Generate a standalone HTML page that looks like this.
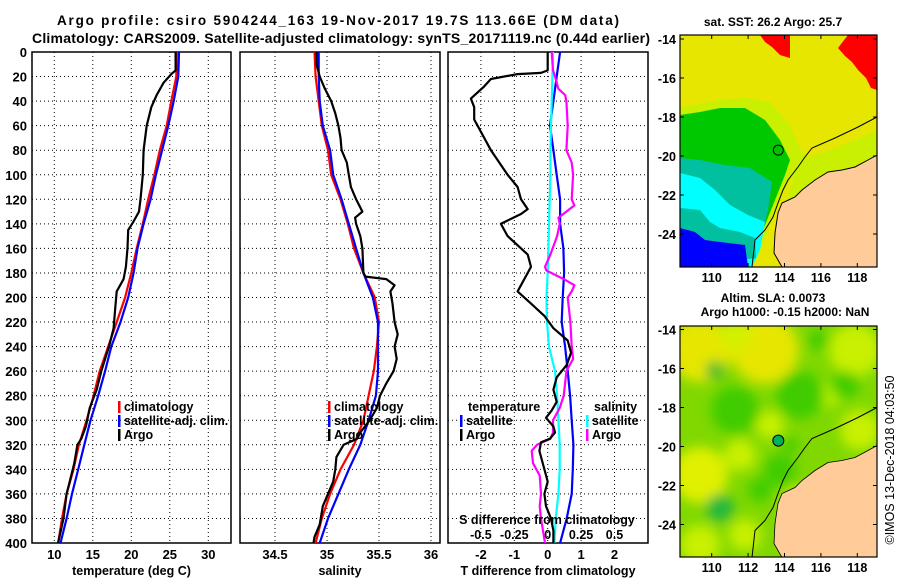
<!DOCTYPE html>
<html><head><meta charset="utf-8"><style>
html,body{margin:0;padding:0;background:#fff;}
svg{display:block;font-family:"Liberation Sans",sans-serif;font-weight:bold;}
</style></head><body>
<svg id="c" width="900" height="580" viewBox="0 0 900 580" xmlns="http://www.w3.org/2000/svg">
<defs>
<clipPath id="m1"><rect x="680" y="35" width="197" height="232"/></clipPath>
<clipPath id="m2"><rect x="680" y="326" width="197" height="231"/></clipPath>
<clipPath id="p1"><rect x="32" y="52" width="199" height="491"/></clipPath>
<clipPath id="p2"><rect x="240" y="52" width="200" height="491"/></clipPath>
<clipPath id="p3"><rect x="448" y="52" width="200" height="491"/></clipPath>
<filter id="bl" x="-20%" y="-20%" width="140%" height="140%"><feGaussianBlur stdDeviation="6"/></filter>
</defs>
<text x="338" y="25" text-anchor="middle" font-size="13.5" textLength="562">Argo profile: csiro 5904244_163 19-Nov-2017 19.7S 113.66E (DM data)</text>
<text x="341" y="43" text-anchor="middle" font-size="14" textLength="618">Climatology: CARS2009. Satellite-adjusted climatology: synTS_20171119.nc (0.44d earlier)</text>
<g id="g"></g>
</svg>
<script>
// ---- data ----
const depthArgoT = [0,15,18,25,35,45,60,80,100,120,130,138,145,160,175,185,195,210,225,240,260,275,290,305,315,320,335,350,360,380,400];
const argoT = [25.75,25.75,25.2,24.2,23.3,22.6,22.0,21.6,21.5,21.2,21.0,20.3,19.6,19.5,19.3,19.0,18.1,17.9,17.7,17.1,16.1,15.5,14.6,14.1,13.5,13.0,12.6,12.0,11.6,11.2,10.5];
const depthStd = [0,20,40,60,80,100,120,140,160,180,200,220,240,260,280,300,320,340,360,380,400];
const climT = [25.9,25.85,25.2,24.6,23.7,23.0,22.2,21.5,20.7,20.0,19.2,18.1,17.0,15.9,15.1,14.2,13.2,12.5,11.6,11.0,10.5];
const satT = [26.2,26.1,25.5,24.8,24.0,23.2,22.5,21.6,20.8,20.3,19.6,18.6,17.4,16.6,15.7,14.7,13.9,13.1,12.3,11.6,10.8];
const depthArgoS = [0,10,20,30,40,50,60,70,80,90,100,110,120,130,135,140,150,160,180,183,185,190,195,205,220,230,240,250,260,270,280,290,300,310,315,320,330,340,350,360,370,385,395,400];
const argoS = [34.90,34.90,34.93,34.98,35.04,35.08,35.11,35.13,35.14,35.19,35.21,35.23,35.28,35.34,35.27,35.28,35.32,35.34,35.35,35.37,35.57,35.65,35.61,35.63,35.65,35.68,35.65,35.67,35.64,35.57,35.51,35.48,35.41,35.32,35.29,35.16,35.09,35.08,35.06,35.01,34.96,34.93,34.88,34.87];
const climS = [34.88,34.89,34.92,34.95,35.01,35.04,35.13,35.20,35.26,35.35,35.46,35.50,35.48,35.45,35.40,35.35,35.26,35.13,35.03,34.95,34.89];
const satS = [34.92,34.92,34.93,34.96,35.03,35.06,35.14,35.21,35.28,35.35,35.44,35.49,35.49,35.49,35.47,35.40,35.32,35.21,35.11,35.01,34.93];
const depthDT = [0,15,17,18,22,28,38,45,55,60,80,100,110,120,128,132,140,150,165,175,180,190,195,205,215,225,235,245,255,265,275,285,292,298,305,310,315,318,325,340,350,360,370,380,390,400];
const argoDT = [0,0,-0.2,-0.9,-1.7,-1.9,-2.3,-2.2,-2.2,-2.1,-1.7,-1.2,-0.9,-0.8,-0.6,-0.8,-1.4,-1.2,-0.6,-0.5,-0.6,-0.8,-0.9,-0.5,-0.1,0.17,0.6,0.7,0.57,0.27,0.17,0.27,0.12,-0.05,0.17,0.22,0.07,-0.2,-0.25,-0.1,0,-0.1,-0.05,0.1,0.17,0.17];
const satDT = [0.37,0.27,0.17,0.07,0.17,0.27,0.37,0.37,0.47,0.49,0.45,0.42,0.52,0.6,0.67,0.72,0.77,0.75,0.72,0.57,0.37];
const satDS = [0.04,0.035,0.03,0.025,0.02,0.02,0.015,0.01,0.005,0.0,-0.01,-0.005,0.01,0.055,0.07,0.08,0.09,0.09,0.08,0.06,0.05];
const depthDS = [0,15,20,30,35,40,60,80,90,100,110,120,125,135,140,150,165,175,178,185,190,195,200,220,240,250,260,270,280,290,300,310,315,320,325,335,345,360,370,380,400];
const argoDS = [0.03,0.04,0.055,0.08,0.13,0.14,0.15,0.14,0.18,0.19,0.185,0.18,0.2,0.08,0.09,0.07,0.02,-0.02,-0.01,0.12,0.2,0.18,0.15,0.17,0.18,0.19,0.14,0.13,0.12,0.09,0.04,0.04,0.02,-0.08,-0.12,-0.11,-0.06,-0.05,-0.06,-0.05,-0.02];
const depthTicks = [0,20,40,60,80,100,120,140,160,180,200,220,240,260,280,300,320,340,360,380,400];
const tTicks = [10,15,20,25,30];
const sTicks = [34.5,35,35.5,36];
const dtTicks = [-2,-1,0,1,2];
const dsTicks = [-0.5,-0.25,0,0.25,0.5];
const dsTickLabels = ['-0.5','-0.25','0','0.25','0.5'];
const latTicks = [-14,-16,-18,-20,-22,-24];
const lonTicks = [110,112,114,116,118];

// ---- scales ----
const TOP=52, BOT=543;
const yD = d => TOP + d*(BOT-TOP)/400;
const xT = t => 54.3 + (t-10)*7.7;
const xS = s => 327 + (s-35)*104;
const xDT = v => 547.7 + v*33.4;
const xDS = v => 547.7 + v*133.6;
const xLon = l => 711.7 + (l-110)*18.2;
const yLat1 = l => 39 + (-14-l)*19.5;
const yLat2 = l => 329.5 + (-14-l)*19.5;

const NS='http://www.w3.org/2000/svg';
const G=document.getElementById('g');
function mk(tag, attrs, parent){const e=document.createElementNS(NS,tag);for(const k in attrs)e.setAttribute(k,attrs[k]);(parent||G).appendChild(e);return e;}
function txt(x,y,s,size,anchor,parent){const e=mk('text',{x:x,y:y,'font-size':size,'text-anchor':anchor||'middle'},parent);e.textContent=s;return e;}

function panel(name,x0,x1,xticks,xf,tickLabels,xtitle,showY){
  const g=mk('g',{});
  
  
  depthTicks.forEach(d=>{
    if(d>0&&d<400){const l=mk('line',{x1:x0,x2:x1,y1:yD(d),y2:yD(d),stroke:'#000','stroke-width':1,'stroke-dasharray':'1,3'},g);
    
    }
    if(showY){const t=txt(27,yD(d)+5,String(d),13,'end',g);
      
      }
  });
  xticks.forEach((v,i)=>{
    const l=mk('line',{x1:xf(v),x2:xf(v),y1:TOP,y2:BOT,stroke:'#000','stroke-width':1,'stroke-dasharray':'1,3'},g);
    
    
    if(tickLabels){const t=txt(xf(v),559,tickLabels[i],13,'middle',g);
      
      }
  });
  const r=mk('rect',{x:x0,y:TOP,width:x1-x0,height:BOT-TOP,fill:'none',stroke:'#000','stroke-width':1.5},g);
  
  
  const t=txt((x0+x1)/2,575,xtitle,12.5,'middle',g);
  
  
  return g;
}
function series(name,xs,ds,xf,color,clip){
  const pts=xs.map((v,i)=>xf(v).toFixed(1)+','+yD(ds[i]).toFixed(1)).join(' ');
  const p=mk('polyline',{points:pts,fill:'none',stroke:color,'stroke-width':2.2,'stroke-linejoin':'round','clip-path':'url(#'+clip+')'});
  
  
}
function legendRow(name,x,y,color,label){
  const g=mk('g',{});
  
  
  mk('rect',{x:x,y:y-10,width:2.5,height:12,fill:color},g);
  txt(x+6,y,label,12.5,'start',g);
}

panel('temperature-panel',32,231,tTicks,xT,tTicks.map(String),'temperature (deg C)',true);
panel('salinity-panel',240,440,sTicks,xS,sTicks.map(String),'salinity',false);
panel('difference-panel',448,648,dtTicks,xDT,dtTicks.map(String),'T difference from climatology',false);

series('temperature-climatology-line',climT,depthStd,xT,'#ff0000','p1');
series('temperature-satellite-line',satT,depthStd,xT,'#0000ff','p1');
series('temperature-argo-line',argoT,depthArgoT,xT,'#000000','p1');
series('salinity-climatology-line',climS,depthStd,xS,'#ff0000','p2');
series('salinity-satellite-line',satS,depthStd,xS,'#0000ff','p2');
series('salinity-argo-line',argoS,depthArgoS,xS,'#000000','p2');
series('t-diff-satellite-line',satDT,depthStd,xDT,'#0000ff','p3');
series('s-diff-satellite-line',satDS,depthStd,xDS,'#00ffff','p3');
series('s-diff-argo-line',argoDS,depthDS,xDS,'#ff00ff','p3');
series('t-diff-argo-line',argoDT,depthDT,xDT,'#000000','p3');

legendRow('legend-climatology',118,411,'#ff0000','climatology');
legendRow('legend-satellite-adj',118,425,'#0000ff','satellite-adj. clim.');
legendRow('legend-argo',118,439,'#000000','Argo');
legendRow('legend-s-climatology',328,411,'#ff0000','climatology');
legendRow('legend-s-satellite-adj',328,425,'#0000ff','satellite-adj. clim.');
legendRow('legend-s-argo',328,439,'#000000','Argo');
let t=txt(468,411,'temperature',12.5,'start');


legendRow('legend-t-satellite',460,425,'#0000ff','satellite');
legendRow('legend-t-argo',460,439,'#000000','Argo');
t=txt(594,411,'salinity',12.5,'start');


legendRow('legend-s-satellite',586,425,'#00ffff','satellite');
legendRow('legend-s-argo-diff',586,439,'#ff00ff','Argo');
t=txt(547,524,'S difference from climatology',12.5,'middle');


dsTicks.forEach((v,i)=>{
  const e=txt(xDS(v),539,dsTickLabels[i],12.5,'middle');
  
  
});

// ---- maps ----
const landPts='877,155 868,160 855,167 842,170 828,172 815,180 802,190 795,197 782,203 778,213 775,233 774,253 782,267 877,267';
const coastPts='877,155 868,160 855,167 842,170 828,172 815,180 802,190 795,197 782,203 778,213 775,233 774,253 782,267';
const shelfPts='877,117 858,127 835,138 812,148 805,157 798,167 788,180 783,190 778,203 773,217 765,230 755,240 752,267';
function mapAxes(name,y0,y1,yLat,titleLines,titleY){
  const g=mk('g',{});
  
  
  mk('rect',{x:680,y:y0,width:197,height:y1-y0,fill:'none',stroke:'#000','stroke-width':1.2},g);
  latTicks.forEach(l=>{
    const y=yLat(l);
    mk('line',{x1:680,x2:684,y1:y,y2:y,stroke:'#000'},g);
    mk('line',{x1:873,x2:877,y1:y,y2:y,stroke:'#000'},g);
    const e=txt(676,y+5,String(l),12.5,'end',g);
    
    
  });
  lonTicks.forEach(l=>{
    const x=xLon(l);
    mk('line',{x1:x,x2:x,y1:y0,y2:y0+4,stroke:'#000'},g);
    mk('line',{x1:x,x2:x,y1:y1-4,y2:y1,stroke:'#000'},g);
    const e=txt(x,y1+15,String(l),12.5,'middle',g);
    
    
  });
  titleLines.forEach((s,i)=>{
    const e=txt(titleLines.length>1&&i===1?785:773,titleY+i*14,s,12,'middle',g);
    
    
  });
}
// Map 1: SST
const m1=mk('g',{'clip-path':'url(#m1)'});


mk('rect',{x:680,y:35,width:197,height:232,fill:'#e6e600'},m1);
mk('polygon',{points:'848,35 877,35 877,90 871,88 866,78 858,70 852,62 845,56 838,48',fill:'#ff0000'},m1);
mk('polygon',{points:'760,35 790,35 790,58 780,55 772,47 765,42',fill:'#ff0000'},m1);
mk('polygon',{points:'680,107 700,104 720,100 745,98 770,102 790,125 800,148 808,160 790,180 780,200 770,225 760,250 752,267 680,267',fill:'#c8f000'},m1);
mk('polygon',{points:'680,115 700,112 720,108 745,108 765,120 780,140 790,160 785,175 775,200 765,225 755,250 752,267 680,267',fill:'#00c800'},m1);
mk('polygon',{points:'680,158 700,160 725,165 750,168 772,182 768,210 760,240 752,267 680,267',fill:'#00c0a0'},m1);
mk('polygon',{points:'680,173 700,178 715,190 730,205 748,215 765,222 760,250 752,267 680,267',fill:'#00ffff'},m1);
mk('polygon',{points:'680,208 700,210 710,222 720,228 740,232 755,238 756,258 680,267 680,240',fill:'#00c0a0'},m1);
mk('polygon',{points:'680,228 695,232 705,240 720,242 745,245 748,267 680,267',fill:'#0000ff'},m1);
mk('polygon',{points:'800,160 830,150 855,140 877,130 877,155 855,167 830,172 810,185 795,197 785,208 790,190',fill:'#c8f000'},m1);
mk('polygon',{points:landPts,fill:'#ffcc99'},m1);
mk('polyline',{points:shelfPts,fill:'none',stroke:'#000','stroke-width':1},m1);
mk('polyline',{points:coastPts,fill:'none',stroke:'#000','stroke-width':1},m1);
const dot1=mk('circle',{cx:xLon(113.66),cy:yLat1(-19.7),r:5,fill:'#00c000',stroke:'#000','stroke-width':1},m1);


mapAxes('sst-map',35,267,yLat1,['sat. SST: 26.2 Argo: 25.7'],26);

// Map 2: SLA
const m2=mk('g',{'clip-path':'url(#m2)'});


mk('rect',{x:680,y:326,width:197,height:231,fill:'#80d800'},m2);
const bl=mk('g',{filter:'url(#bl)'},m2);
[[700,350,32,'#e6e600'],[765,350,34,'#e6e600'],[735,335,16,'#d4f000'],[855,350,26,'#c8f000'],[700,475,28,'#e0f000'],[740,455,16,'#c8f000'],[770,425,14,'#c8f000'],[700,545,20,'#c8f000'],[745,535,16,'#c8f000'],[800,505,18,'#c8f000'],[860,430,20,'#c8f000'],[830,395,12,'#b8f000']].forEach(c=>mk('circle',{cx:c[0],cy:c[1],r:c[2],fill:c[3]},bl));
[[735,410,24,'#40cc00'],[800,395,24,'#40cc00'],[845,385,14,'#40cc00'],[780,470,16,'#40cc00'],[720,508,14,'#20b840'],[760,490,12,'#40cc00'],[818,340,10,'#40cc00'],[715,370,9,'#30b830'],[790,445,8,'#40cc00']].forEach(c=>mk('circle',{cx:c[0],cy:c[1],r:c[2],fill:c[3]},bl));
mk('polygon',{points:landPts,fill:'#ffcc99',transform:'translate(0,290.5)'},m2);
mk('polyline',{points:shelfPts,fill:'none',stroke:'#000','stroke-width':1,transform:'translate(0,290.5)'},m2);
mk('polyline',{points:coastPts,fill:'none',stroke:'#000','stroke-width':0.8,transform:'translate(0,290.5)'},m2);
const dot2=mk('circle',{cx:xLon(113.66),cy:yLat2(-19.7),r:5.5,fill:'#00b060',stroke:'#000','stroke-width':1},m2);


mapAxes('sla-map',326,557,yLat2,['Altim. SLA: 0.0073','Argo h1000: -0.15 h2000: NaN'],302);
const cp=txt(0,0,'©IMOS 13-Dec-2018 04:03:50',12.5,'middle');
cp.setAttribute('transform','translate(894,460) rotate(-90)');
cp.setAttribute('font-weight','normal');


</script>
</body></html>
